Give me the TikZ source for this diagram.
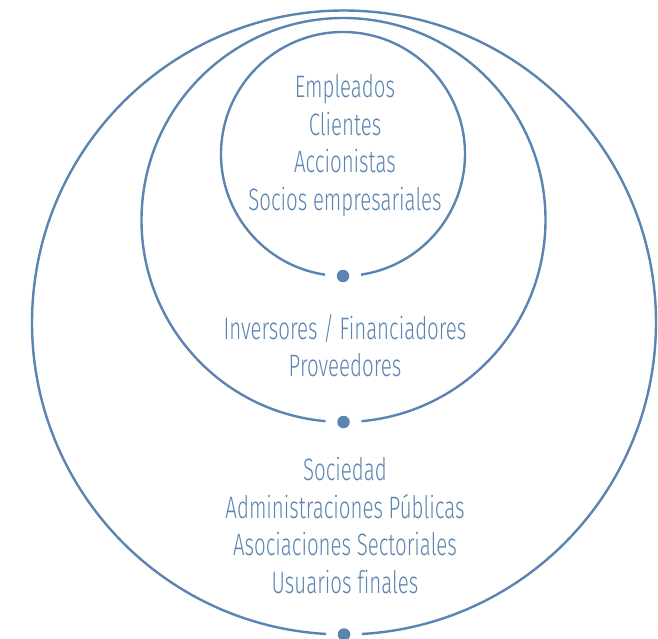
\documentclass[tikz,border=0pt]{standalone}
\usepackage{fontspec}
\setmainfont{Fira Sans Light}[FakeStretch=0.66, Ligatures=NoCommon]
\usetikzlibrary{calc}
\definecolor{ringblue}{RGB}{91,132,177}
\tikzset{ring/.style={draw=ringblue, line width=2.4pt}}
\tikzset{ringdot/.style={circle, fill=ringblue, inner sep=0pt, minimum size=12.5pt}}
\tikzset{grouptext/.style={text=ringblue, align=center, inner sep=0pt,
  font=\fontsize{31}{37.5}\selectfont}}
\begin{document}
\begin{tikzpicture}[x=1pt,y=-1pt]
  \useasboundingbox (0,0) rectangle (658,639);
  % centres of the three rings
  \coordinate (inner) at (343,154);
  \coordinate (middle) at (343.5,220);
  \coordinate (outer) at (344,322.5);
  % rings, left open round the dot at the bottom
  \draw[ring] ($(inner)+(98.5:122)$) arc[start angle=98.5, end angle=441.5, radius=122];
  \draw[ring] ($(middle)+(95.1:202)$) arc[start angle=95.1, end angle=444.9, radius=202];
  \draw[ring] ($(outer)+(93.3:312)$) arc[start angle=93.3, end angle=446.7, radius=312];
  \node[ringdot] (innerdot) at ($(inner)+(90:122)$) {};
  \node[ringdot] (middledot) at ($(middle)+(90:202)$) {};
  \node[ringdot] (outerdot) at ($(outer)+(90:312)$) {};
  % groups
  \node[grouptext] (core) at (345,145.5) {Empleados\\Clientes\\Accionistas\\Socios empresariales};
  \node[grouptext] (partners) at (345,345.5) {Inversores / Financiadores\\Proveedores};
  \node[grouptext] (society) at (345,525.5) {Sociedad\\Administraciones Públicas\\Asociaciones Sectoriales\\Usuarios finales};
\end{tikzpicture}
\end{document}
